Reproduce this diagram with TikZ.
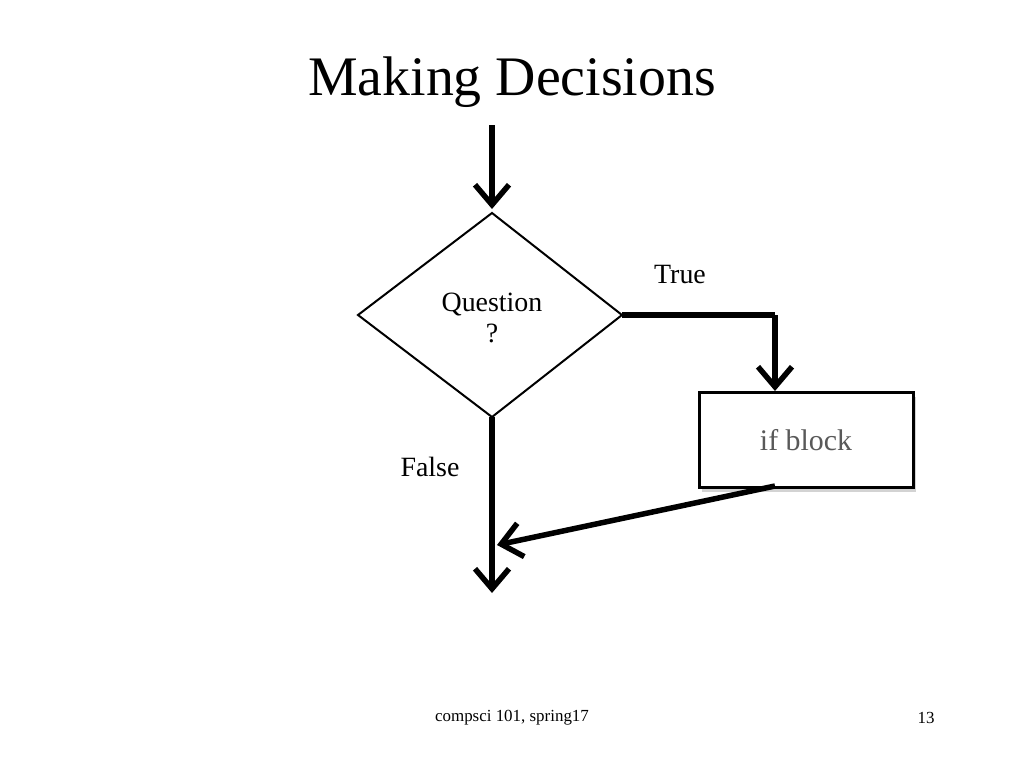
\documentclass[tikz,border=0pt]{standalone}
\usepackage{fontspec}
\setmainfont{Liberation Serif}
\usetikzlibrary{arrows.meta,shadows}
\begin{document}
\begin{tikzpicture}[x=1bp,y=-1bp,
  flow/.style={line width=5.5bp,-{Straight Barb[length=20bp,width=34bp,line width=5.5bp]}},
  lbl/.style={font=\fontsize{28}{32}\selectfont}]
\useasboundingbox (0,0) rectangle (1024,768);
\node[font=\fontsize{56}{60}\selectfont] (title) at (512,82) {Making Decisions};
\coordinate (start) at (492,125);
\coordinate (dtop) at (492,213);
\coordinate (dleft) at (358,315);
\coordinate (dright) at (622,315);
\coordinate (dbot) at (492,417);
\draw[line width=2bp] (dtop) -- (dright) -- (dbot) -- (dleft) -- cycle;
\node[lbl,align=center] (q) at (492,318) {Question\\?};
\draw[flow] (start) -- (492,209);
\coordinate (corner) at (775,315);
\draw[line width=5.5bp] (dright) -- (corner);
\node[draw,line width=3bp,minimum width=214bp,minimum height=95bp,fill=white,
  drop shadow={shadow xshift=3bp,shadow yshift=-4bp,opacity=0.35}] (box) at (806,440)
  {\textcolor{gray!70!black}{\fontsize{30}{34}\selectfont if block}};
\draw[flow] (corner) -- (box.north -| corner);
\node[lbl] (true) at (680,275) {True};
\node[lbl] (false) at (430,467) {False};
\coordinate (bend) at (775,486);
\coordinate (join) at (497,545);
\coordinate (end) at (492,593);
\draw[flow] (dbot) -- (end);
\draw[flow] (bend) -- (join);
\node[font=\fontsize{17}{20}\selectfont] (foot) at (512,718) {compsci 101, spring17};
\node[font=\fontsize{17}{20}\selectfont] (page) at (926,718) {13};
\end{tikzpicture}
\end{document}
